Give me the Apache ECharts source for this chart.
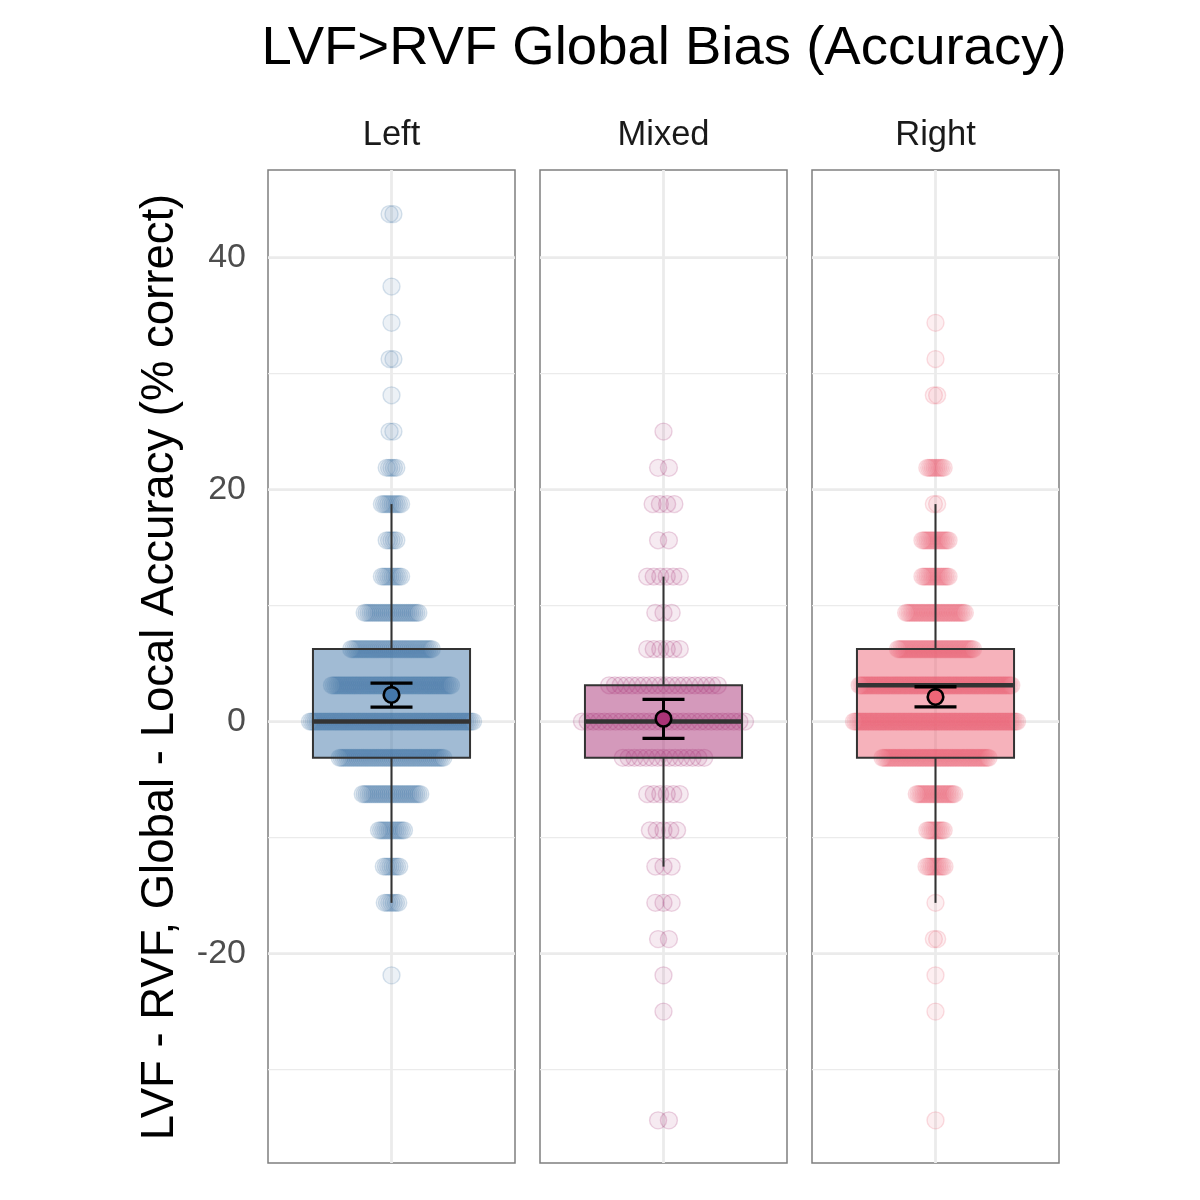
<!DOCTYPE html>
<html><head><meta charset="utf-8">
<script src="https://cdn.jsdelivr.net/npm/echarts@6/dist/echarts.min.js"></script>
<style>html,body{margin:0;padding:0;background:#fff}#c{width:1200px;height:1200px}</style>
</head><body><div id="c"></div>
<script>
// ---------- data ----------
const groups = ['Left', 'Mixed', 'Right'];
const colors = ['#4477AA', '#AA3377', '#EE6677'];
const levels = [43.75, 40.625, 37.5, 34.375, 31.25, 28.125, 25, 21.875, 18.75, 15.625, 12.5, 9.375, 6.25, 3.125, 0, -3.125, -6.25, -9.375, -12.5, -15.625, -18.75, -21.875, -25, -28.125, -31.25, -34.375];
const countsLeft  = [2, 0, 1, 1, 2, 1, 2, 5, 10, 5, 10, 28, 42, 62, 85, 54, 30, 13, 8, 7, 0, 1, 0, 0, 0, 0];
const countsMixed = [0, 0, 0, 0, 0, 0, 1, 2, 4, 2, 6, 3, 6, 20, 30, 15, 6, 5, 3, 3, 2, 1, 1, 0, 0, 2];
const countsRight = [0, 0, 0, 1, 1, 2, 0, 10, 2, 16, 16, 36, 46, 93, 100, 65, 23, 10, 11, 1, 2, 1, 1, 0, 0, 1];
// box stats: [lower whisker, Q1, median, Q3, upper whisker]
const boxLeft  = [-15.625, -3.125, 0, 6.25, 18.75];
const boxMixed = [-12.5, -3.125, 0, 3.125, 12.5];
const boxRight = [-15.625, -3.125, 3.125, 6.25, 18.75];
// mean with 95% CI: [lower, mean, upper]
const meanLeft  = [1.25, 2.3, 3.32];
const meanMixed = [-1.45, 0.25, 1.92];
const meanRight = [1.27, 2.13, 3.0];
const yTicks = [40, 20, 0, -20];
const majorGrid = [40, 20, 0, -20];
const minorGrid = [30, 10, -10, -30];
const yRange = [-38.05, 47.55];
const titleText = 'LVF>RVF Global Bias (Accuracy)';
const yTitle = 'LVF - RVF, Global - Local Accuracy (% correct)';

// ---------- layout / style ----------
const FONT = '"Liberation Sans", Arial, Helvetica, sans-serif';
const panels = [{left: 268}, {left: 540}, {left: 812}];
const PW = 247, PTOP = 170, PH = 993;
const BOX_HALF = 0.636;
const MAX_HALF = 0.66;
const counts = [countsLeft, countsMixed, countsRight];
const boxes = [boxLeft, boxMixed, boxRight];
const means = [meanLeft, meanMixed, meanRight];

function rgba(hex, a) {
  const n = parseInt(hex.slice(1), 16);
  return 'rgba(' + (n >> 16) + ',' + ((n >> 8) & 255) + ',' + (n & 255) + ',' + a + ')';
}

function pointsFor(cnt) {
  const maxC = Math.max.apply(null, cnt);
  const pts = [];
  levels.forEach((v, k) => {
    const n = cnt[k];
    const hw = MAX_HALF * n / maxC;
    for (let i = 0; i < n; i++) {
      const x = n > 1 ? -hw + 2 * hw * i / (n - 1) : 0;
      pts.push([x, v]);
    }
  });
  return pts;
}

const grid = [], xAxis = [], yAxis = [], series = [];
groups.forEach((g, i) => {
  grid.push({left: panels[i].left, top: PTOP, width: PW, height: PH, show: true,
    borderColor: '#7f7f7f', borderWidth: 1.5, backgroundColor: 'transparent'});
  xAxis.push({type: 'value', gridIndex: i, min: -1, max: 1, show: false});
  yAxis.push({type: 'value', gridIndex: i, min: yRange[0], max: yRange[1],
    axisLine: {show: false}, axisTick: {show: false}, splitLine: {show: false},
    axisLabel: i === 0 ? {show: true, customValues: yTicks, fontSize: 34, color: '#4d4d4d',
      fontFamily: FONT, margin: 22} : {show: false}});
  // gridlines
  const gl = majorGrid.map(v => [0, v, 2]).concat(minorGrid.map(v => [0, v, 1]));
  series.push({type: 'custom', xAxisIndex: i, yAxisIndex: i, z: 1, silent: true,
    data: gl,
    renderItem: (p, api) => {
      const y = api.value(1), w = api.value(2);
      const a = api.coord([-1, y]), b = api.coord([1, y]);
      return {type: 'line', shape: {x1: a[0], y1: a[1], x2: b[0], y2: b[1]},
        style: {stroke: '#ebebeb', lineWidth: w === 2 ? 2.8 : 1.4}};
    }});
  series.push({type: 'custom', xAxisIndex: i, yAxisIndex: i, z: 1, silent: true,
    data: [[0, yRange[0], yRange[1]]],
    renderItem: (p, api) => {
      const a = api.coord([0, api.value(1)]), b = api.coord([0, api.value(2)]);
      return {type: 'line', shape: {x1: a[0], y1: a[1], x2: b[0], y2: b[1]},
        style: {stroke: '#ebebeb', lineWidth: 2.8}};
    }});
  // box fill
  series.push({type: 'custom', xAxisIndex: i, yAxisIndex: i, z: 2, silent: true,
    data: [[0].concat(boxes[i])],
    renderItem: (p, api) => {
      const tl = api.coord([-BOX_HALF, api.value(4)]), br = api.coord([BOX_HALF, api.value(2)]);
      return {type: 'rect', shape: {x: tl[0], y: tl[1], width: br[0] - tl[0], height: br[1] - tl[1]},
        style: {fill: rgba(colors[i], 0.5)}};
    }});
  // points
  series.push({type: 'scatter', xAxisIndex: i, yAxisIndex: i, z: 3, silent: true,
    symbol: 'circle', symbolSize: 17, data: pointsFor(counts[i]),
    itemStyle: {color: rgba(colors[i], 0.13), borderColor: rgba(colors[i], 0.26), borderWidth: 1.4}});
  // box outline, whiskers, median
  series.push({type: 'custom', xAxisIndex: i, yAxisIndex: i, z: 4, silent: true,
    data: [[0].concat(boxes[i])],
    renderItem: (p, api) => {
      const lo = api.value(1), q1 = api.value(2), med = api.value(3), q3 = api.value(4), hi = api.value(5);
      const c = (x, y) => api.coord([x, y]);
      const pLo = c(0, lo), pQ1 = c(0, q1), pQ3 = c(0, q3), pHi = c(0, hi);
      const tl = c(-BOX_HALF, q3), br = c(BOX_HALF, q1);
      const ml = c(-BOX_HALF, med), mr = c(BOX_HALF, med);
      return {type: 'group', children: [
        {type: 'line', shape: {x1: pHi[0], y1: pHi[1], x2: pQ3[0], y2: pQ3[1]}, style: {stroke: '#333', lineWidth: 2}},
        {type: 'line', shape: {x1: pQ1[0], y1: pQ1[1], x2: pLo[0], y2: pLo[1]}, style: {stroke: '#333', lineWidth: 2}},
        {type: 'rect', shape: {x: tl[0], y: tl[1], width: br[0] - tl[0], height: br[1] - tl[1]},
          style: {fill: 'none', stroke: '#333', lineWidth: 2}},
        {type: 'line', shape: {x1: ml[0], y1: ml[1], x2: mr[0], y2: mr[1]}, style: {stroke: '#333', lineWidth: 4.5}}
      ]};
    }});
  // mean + CI
  series.push({type: 'custom', xAxisIndex: i, yAxisIndex: i, z: 5, silent: true,
    data: [[0].concat(means[i])],
    renderItem: (p, api) => {
      const lo = api.coord([0, api.value(1)]), m = api.coord([0, api.value(2)]), hi = api.coord([0, api.value(3)]);
      const cw = 21;
      return {type: 'group', children: [
        {type: 'line', shape: {x1: lo[0], y1: lo[1], x2: hi[0], y2: hi[1]}, style: {stroke: '#000', lineWidth: 3}},
        {type: 'line', shape: {x1: lo[0] - cw, y1: lo[1], x2: lo[0] + cw, y2: lo[1]}, style: {stroke: '#000', lineWidth: 3.4}},
        {type: 'line', shape: {x1: hi[0] - cw, y1: hi[1], x2: hi[0] + cw, y2: hi[1]}, style: {stroke: '#000', lineWidth: 3.4}},
        {type: 'circle', shape: {cx: m[0], cy: m[1], r: 7.8}, style: {fill: colors[i], stroke: '#000', lineWidth: 2.6}}
      ]};
    }});
});

const graphic = [
  {type: 'text', x: 664, y: 49, style: {text: titleText, font: '54.5px ' + FONT, fill: '#000', align: 'center', verticalAlign: 'middle'}},
  {type: 'text', x: 160, y: 667, rotation: Math.PI / 2, style: {text: yTitle, font: '45.5px ' + FONT, fill: '#000', align: 'center', verticalAlign: 'middle'}}
];
groups.forEach((g, i) => {
  graphic.push({type: 'text', x: panels[i].left + PW / 2, y: 135,
    style: {text: g, font: '34.5px ' + FONT, fill: '#1a1a1a', align: 'center', verticalAlign: 'middle'}});
});

const chart = echarts.init(document.getElementById('c'), null, {renderer: 'canvas'});
chart.setOption({animation: false, backgroundColor: '#fff', grid, xAxis, yAxis, series, graphic});
</script>
</body></html>
